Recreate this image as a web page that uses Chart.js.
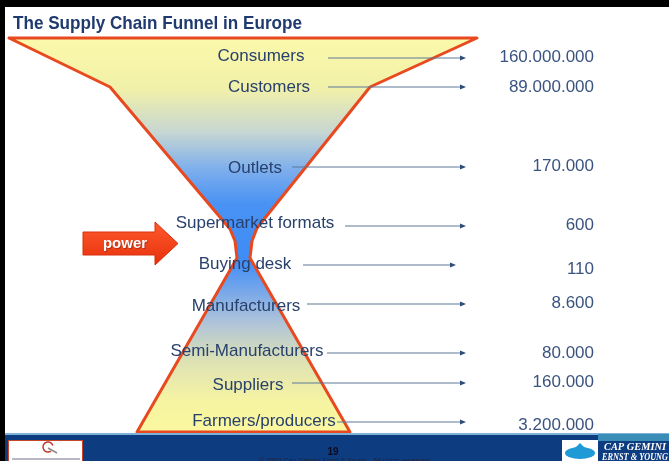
<!DOCTYPE html>
<html><head><meta charset="utf-8">
<script src="https://cdn.jsdelivr.net/npm/chart.js@4.4.0/dist/chart.umd.min.js"></script>
<style>html,body{margin:0;padding:0;background:#fff;overflow:hidden}canvas{display:block}</style>
</head><body>
<canvas id="c" width="669" height="461"></canvas>
<script>
// ---- data ----
const title = 'The Supply Chain Funnel in Europe';
const stages = ['Consumers', 'Customers', 'Outlets', 'Supermarket formats', 'Buying desk',
                'Manufacturers', 'Semi-Manufacturers', 'Suppliers', 'Farmers/producers'];
const counts = [160000000, 89000000, 170000, 600, 110, 8600, 80000, 160000, 3200000];
// funnel outline (axis units)
const funnelX = [9, 477, 370, 257, 252, 250, 350, 137, 237, 235, 230, 110, 9];
const funnelY = [38, 38, 87, 228, 241, 258, 432, 432, 258, 241, 229, 87, 38];
const highlightLabel = 'power';
const footerPage = '19';
const footerNote = '\u00A9 2002 Cap Gemini Ernst & Young - All rights reserved';
const brandLines = ['CAP GEMINI', 'ERNST & YOUNG'];

// ---- layout (positions, kept apart from data) ----
const layout = {
  rowY:      [56, 87, 168, 223, 264, 306, 351, 385, 421],
  labelX:    [261, 269, 255, 255, 245, 246, 247, 248, 264],
  arrowFrom: [328, 328, 292, 345, 303, 307, 327, 292, 337],
  arrowTo:   [466, 466, 466, 466, 456, 466, 466, 466, 466],
  arrowY:    [58, 87, 167, 226, 265, 304, 353, 383, 422],
  valueX: 594,
  valueY:    [57, 87, 166, 225, 269, 303, 353, 382, 425]
};

const fmt = v => String(v).replace(/\B(?=(\d{3})+(?!\d))/g, '.');

function fitText(ctx, text, x, y, w, align) {
  const m = ctx.measureText(text).width;
  const s = w / m;
  ctx.save();
  ctx.translate(x, y);
  ctx.scale(s, 1);
  ctx.textAlign = align || 'left';
  ctx.fillText(text, 0, 0);
  ctx.restore();
}

const deco = {
  id: 'deco',
  beforeDraw(chart) {
    const ctx = chart.ctx, sx = chart.scales.x, sy = chart.scales.y;
    const X = v => sx.getPixelForValue(v), Y = v => sy.getPixelForValue(v);
    ctx.save();
    ctx.fillStyle = '#ffffff';
    ctx.fillRect(0, 0, chart.width, chart.height);
    ctx.fillStyle = '#000000';
    ctx.fillRect(X(0), Y(0), X(669) - X(0), Y(7) - Y(0));
    ctx.fillRect(X(0), Y(0), X(5) - X(0), Y(461) - Y(0));
    // title
    ctx.fillStyle = '#1e3a6e';
    ctx.font = 'bold 19px "Liberation Sans Narrow", "Liberation Sans", Arial, sans-serif';
    ctx.textBaseline = 'alphabetic';
    fitText(ctx, title, X(13), Y(29), X(302) - X(13), 'left');
    ctx.restore();
  },
  beforeDatasetsDraw(chart) {
    const ctx = chart.ctx, sy = chart.scales.y;
    const meta = chart.getDatasetMeta(0);
    const pts = meta.data;
    ctx.save();
    const g = ctx.createLinearGradient(0, sy.getPixelForValue(38), 0, sy.getPixelForValue(432));
    g.addColorStop(0.00, '#fbf9a9');
    g.addColorStop(0.13, '#f1f0aa');
    g.addColorStop(0.24, '#c6d6d2');
    g.addColorStop(0.33, '#80b0ec');
    g.addColorStop(0.42, '#4a92f4');
    g.addColorStop(0.56, '#3e8cf6');
    g.addColorStop(0.63, '#6ea3ec');
    g.addColorStop(0.72, '#aec3da');
    g.addColorStop(0.82, '#dde2b4');
    g.addColorStop(0.92, '#f6f3a2');
    g.addColorStop(1.00, '#fbf8a0');
    ctx.beginPath();
    pts.forEach((p, i) => i ? ctx.lineTo(p.x, p.y) : ctx.moveTo(p.x, p.y));
    ctx.closePath();
    ctx.fillStyle = g;
    ctx.fill();
    ctx.restore();
  },
  afterDatasetsDraw(chart) {
    const ctx = chart.ctx, sx = chart.scales.x, sy = chart.scales.y;
    const X = v => sx.getPixelForValue(v), Y = v => sy.getPixelForValue(v);
    ctx.save();
    // arrows
    stages.forEach((s, i) => {
      const y = Y(layout.arrowY[i]);
      const x0 = X(layout.arrowFrom[i]), x1 = X(layout.arrowTo[i]);
      ctx.strokeStyle = '#5f7898';
      ctx.lineWidth = 1.2;
      ctx.beginPath(); ctx.moveTo(x0, y); ctx.lineTo(x1 - 4, y); ctx.stroke();
      ctx.fillStyle = '#2f4d78';
      ctx.beginPath(); ctx.moveTo(x1, y); ctx.lineTo(x1 - 6, y - 2.5); ctx.lineTo(x1 - 6, y + 2.5); ctx.closePath(); ctx.fill();
    });
    // labels
    ctx.font = '17px "Liberation Sans", Arial, sans-serif';
    ctx.textBaseline = 'middle';
    ctx.textAlign = 'center';
    ctx.fillStyle = '#28416c';
    stages.forEach((s, i) => ctx.fillText(s, X(layout.labelX[i]), Y(layout.rowY[i])));
    // values
    ctx.textAlign = 'right';
    ctx.fillStyle = '#3a5380';
    counts.forEach((v, i) => ctx.fillText(fmt(v), X(layout.valueX), Y(layout.valueY[i])));
    // power arrow
    const ap = [[83, 232], [155, 232], [155, 222], [178, 243.5], [155, 265], [155, 255], [83, 255]];
    const ga = ctx.createLinearGradient(0, Y(222), 0, Y(265));
    ga.addColorStop(0, '#ff5a2c'); ga.addColorStop(1, '#e6300c');
    ctx.beginPath();
    ap.forEach((p, i) => i ? ctx.lineTo(X(p[0]), Y(p[1])) : ctx.moveTo(X(p[0]), Y(p[1])));
    ctx.closePath();
    ctx.fillStyle = ga; ctx.fill();
    ctx.strokeStyle = '#d8300e'; ctx.lineWidth = 1; ctx.stroke();
    ctx.font = 'bold 15px "Liberation Sans", Arial, sans-serif';
    ctx.textAlign = 'center';
    ctx.fillStyle = 'rgba(120,30,10,0.5)';
    ctx.fillText(highlightLabel, X(126), Y(245));
    ctx.fillStyle = '#ffffff';
    ctx.fillText(highlightLabel, X(125), Y(244));
    // footer
    ctx.fillStyle = '#7fb2da';
    ctx.fillRect(X(5), Y(433), X(669) - X(5), Y(435) - Y(433));
    ctx.fillStyle = '#0e3c80';
    ctx.fillRect(X(5), Y(435), X(669) - X(5), Y(461) - Y(435));
    ctx.fillStyle = '#3a8db6';
    ctx.fillRect(X(598), Y(434), X(669) - X(598), Y(441) - Y(434));
    // left logo
    ctx.fillStyle = '#ffffff';
    ctx.fillRect(X(8), Y(440), X(83) - X(8), Y(461) - Y(440));
    ctx.strokeStyle = '#c9452a'; ctx.lineWidth = 1;
    ctx.strokeRect(X(8) + 0.5, Y(440) + 0.5, X(83) - X(8) - 1, Y(461) - Y(440));
    ctx.strokeStyle = '#c0392b'; ctx.lineWidth = 1.5;
    ctx.beginPath(); ctx.arc(X(48), Y(447), 5, Math.PI * 0.3, Math.PI * 1.9); ctx.stroke();
    ctx.strokeStyle = '#8a8a8a';
    ctx.beginPath(); ctx.moveTo(X(48), Y(448)); ctx.lineTo(X(57), Y(453)); ctx.stroke();
    ctx.fillStyle = '#b8b8c4';
    ctx.fillRect(X(12), Y(458), X(80) - X(12), 2);
    // right logo
    ctx.fillStyle = '#ffffff';
    ctx.fillRect(X(562), Y(440), X(598) - X(562), Y(461) - Y(440));
    ctx.fillStyle = '#1e9ad6';
    ctx.beginPath(); ctx.ellipse(X(580), Y(453), 15, 6, 0, 0, Math.PI * 2); ctx.fill();
    ctx.beginPath(); ctx.moveTo(X(580), Y(443)); ctx.quadraticCurveTo(X(586), Y(450), X(594), Y(452));
    ctx.lineTo(X(566), Y(452)); ctx.quadraticCurveTo(X(574), Y(450), X(580), Y(443)); ctx.fill();
    ctx.fillStyle = '#ffffff';
    ctx.font = 'italic bold 10px "Liberation Serif", "DejaVu Serif", serif';
    ctx.textBaseline = 'alphabetic';
    fitText(ctx, brandLines[0], X(604), Y(450), X(666) - X(604), 'left');
    fitText(ctx, brandLines[1], X(602), Y(460), X(668) - X(602), 'left');
    // page number and note
    ctx.fillStyle = '#0b0b1e';
    ctx.font = 'bold 10px "Liberation Sans", Arial, sans-serif';
    ctx.textAlign = 'center';
    ctx.fillText(footerPage, X(333), Y(455));
    ctx.font = '7px "Liberation Sans", Arial, sans-serif';
    ctx.fillStyle = '#1d2438';
    ctx.fillText(footerNote, X(344), Y(463));
    ctx.restore();
  }
};

new Chart(document.getElementById('c'), {
  type: 'scatter',
  data: {
    datasets: [{
      label: 'funnel',
      data: funnelX.map((x, i) => ({ x: x, y: funnelY[i] })),
      showLine: true,
      borderColor: '#e8491e',
      borderWidth: 3,
      borderJoinStyle: 'round',
      borderCapStyle: 'round',
      pointRadius: 0,
      fill: false,
      tension: 0,
      clip: false
    }]
  },
  options: {
    responsive: false,
    animation: false,
    layout: { padding: 0 },
    plugins: { legend: { display: false }, tooltip: { enabled: false }, title: { display: false } },
    scales: {
      x: { type: 'linear', min: 0, max: 669, display: false },
      y: { type: 'linear', min: 0, max: 461, reverse: true, display: false }
    }
  },
  plugins: [deco]
});
</script>
</body></html>
